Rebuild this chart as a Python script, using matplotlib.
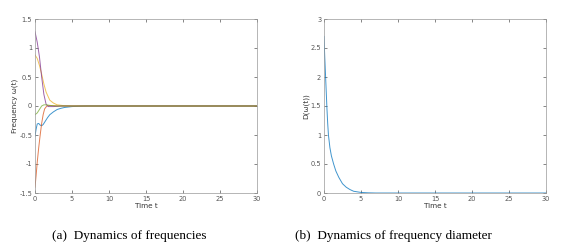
import matplotlib
matplotlib.use("Agg")
import matplotlib.pyplot as plt

# ---- data ----
t_blue = [0, 0.15, 0.3, 0.5, 0.7, 0.9, 1.1, 1.4, 1.7, 2.0, 2.5, 3.0, 3.5, 4.0, 5.0, 6.0, 7.0, 30]
w_blue = [-0.52, -0.4, -0.31, -0.3, -0.33, -0.34, -0.32, -0.26, -0.2, -0.15, -0.1, -0.06, -0.04, -0.025, -0.01, -0.004, 0.0, 0.0]

t_orange = [0, 0.15, 0.3, 0.5, 0.7, 0.9, 1.1, 1.3, 1.6, 2.0, 3.0, 30]
w_orange = [-1.4, -1.2, -0.97, -0.72, -0.5, -0.3, -0.15, -0.05, 0.0, 0.01, 0.0, 0.0]

t_yellow = [0, 0.3, 0.6, 0.9, 1.2, 1.5, 2.0, 2.5, 3.0, 4.0, 5.0, 30]
w_yellow = [0.88, 0.82, 0.7, 0.55, 0.38, 0.24, 0.1, 0.05, 0.02, 0.005, 0.0, 0.0]

t_purple = [0, 0.3, 0.6, 0.9, 1.2, 1.5, 1.8, 2.5, 3.5, 30]
w_purple = [1.28, 1.1, 0.85, 0.5, 0.2, 0.03, -0.01, -0.01, 0.0, 0.0]

t_green = [0, 0.3, 0.6, 0.9, 1.2, 1.6, 2.0, 3.0, 30]
w_green = [-0.15, -0.12, -0.06, 0.0, 0.02, 0.02, 0.01, 0.0, 0.0]

t_diam = [0, 0.1, 0.2, 0.3, 0.4, 0.5, 0.6, 0.8, 1.0, 1.3, 1.6, 2.0, 2.5, 3.0, 3.5, 4.0, 5.0, 6.0, 7.0, 30]
diam = [2.7, 2.35, 2.05, 1.75, 1.45, 1.2, 1.0, 0.78, 0.64, 0.5, 0.38, 0.27, 0.16, 0.1, 0.06, 0.03, 0.01, 0.003, 0.0, 0.0]

xticks = [0, 5, 10, 15, 20, 25, 30]
yticks_a = [-1.5, -1, -0.5, 0, 0.5, 1, 1.5]
yticks_b = [0, 0.5, 1, 1.5, 2, 2.5, 3]

c_blue = (0, 0.447, 0.741)
c_orange = (0.85, 0.325, 0.098)
c_yellow = (0.929, 0.694, 0.125)
c_purple = (0.494, 0.184, 0.556)
c_green = (0.466, 0.674, 0.188)

axcol = '#555555'

fig = plt.figure(figsize=(5.71, 2.52), dpi=100)
axa = fig.add_axes([35/571, 59/252, 222/571, 174/252])
axb = fig.add_axes([324/571, 59/252, 222/571, 174/252])

lw = 0.7
al = 0.75
axa.plot(t_blue, w_blue, color=c_blue, lw=lw, alpha=al)
axa.plot(t_orange, w_orange, color=c_orange, lw=lw, alpha=al)
axa.plot(t_yellow, w_yellow, color=c_yellow, lw=lw, alpha=al)
axa.plot(t_purple, w_purple, color=c_purple, lw=lw, alpha=al)
axa.plot(t_green, w_green, color=c_green, lw=lw, alpha=al)
axb.plot(t_diam, diam, color=c_blue, lw=lw, alpha=al)

def style(ax, yticks, ylabel):
    ax.set_xlim(0, 30)
    ax.set_ylim(yticks[0], yticks[-1])
    ax.set_xticks(xticks)
    ax.set_xticklabels([str(v) for v in xticks])
    ax.set_yticks(yticks)
    ax.set_yticklabels([('%g' % v) for v in yticks])
    ax.tick_params(direction='in', length=2.5, width=0.5, labelsize=4.8,
                   colors=axcol, top=True, right=True, pad=2)
    for s in ax.spines.values():
        s.set_color('#999999')
        s.set_linewidth(0.5)
    ax.set_xlabel('Time t', fontsize=5.2, color='#333333', labelpad=1)
    ax.set_ylabel(ylabel, fontsize=5.2, color='#333333', labelpad=1)

style(axa, yticks_a, 'Frequency ω(t)')
style(axb, yticks_b, 'D(ω(t))')

fig.text(129/571, 1 - 236/252, '(a)  Dynamics of frequencies', ha='center', va='center',
         fontsize=9.5, family='Liberation Serif')
fig.text(393/571, 1 - 236/252, '(b)  Dynamics of frequency diameter', ha='center', va='center',
         fontsize=9.5, family='Liberation Serif')

fig.savefig('out.png', dpi=100)
